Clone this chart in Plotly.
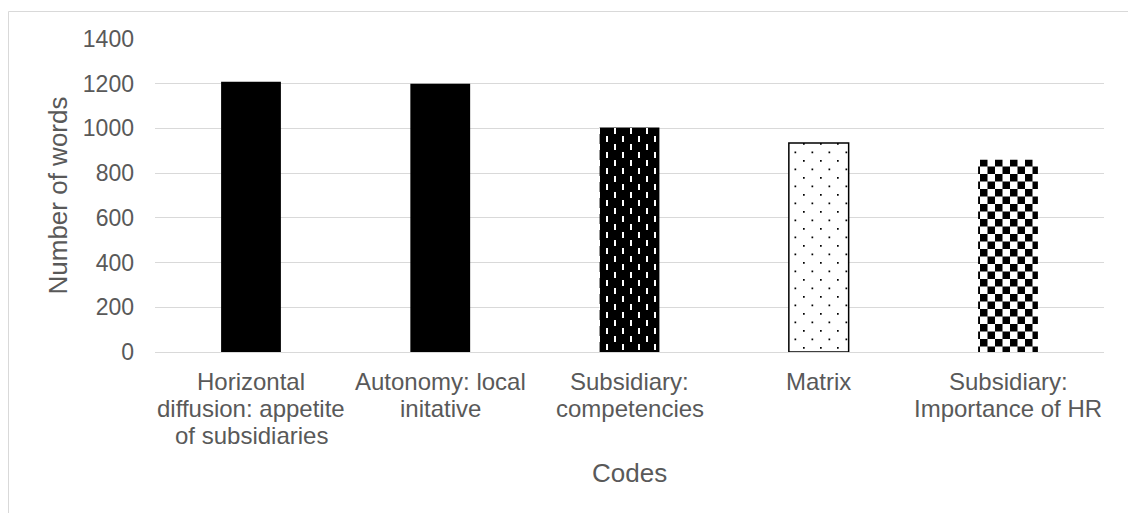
import plotly.graph_objects as go

categories = [
    "Horizontal diffusion: appetite of subsidiaries",
    "Autonomy: local initative",
    "Subsidiary: competencies",
    "Matrix",
    "Subsidiary: Importance of HR",
]
category_lines = [
    ["Horizontal", "diffusion: appetite", "of subsidiaries"],
    ["Autonomy: local", "initative"],
    ["Subsidiary:", "competencies"],
    ["Matrix"],
    ["Subsidiary:", "Importance of HR"],
]
values = [1209, 1200, 1004, 935, 860]
y_ticks = [0, 200, 400, 600, 800, 1000, 1200, 1400]

W, H = 1128, 513
L, R, T, B = 155, 24, 39, 161
pw, ph = W - L - R, H - T - B

FONT = "Arial, Liberation Sans, sans-serif"
TXT = "#595959"
GRID = "#d9d9d9"

patterns = [
    None,
    None,
    dict(shape="", path="M3,1h2v6h-2Z M11,9h2v6h-2Z", size=16, fgcolor="white", bgcolor="black", fillmode="replace"),
    dict(shape="", path="M2,2h1.7v1.7h-1.7Z M10.5,10.5h1.7v1.7h-1.7Z", size=17, fgcolor="black", bgcolor="white", fillmode="replace"),
    dict(shape="", path="M0,0H7.5V7.5H0Z M7.5,7.5H15V15H7.5Z", size=15, fgcolor="black", bgcolor="white", fillmode="replace"),
]
line_w = [0, 0, 0, 1.5, 0]

fig = go.Figure()
for i in range(len(categories)):
    if patterns[i] is None:
        marker = dict(color="black", line=dict(width=0))
    else:
        marker = dict(color="white", line=dict(width=line_w[i], color="black"), pattern=patterns[i])
    fig.add_trace(go.Bar(
        x=[categories[i]], y=[values[i]], width=0.316,
        marker=marker, showlegend=False, hoverinfo="skip",
    ))

annotations = [
    dict(text="Number of words", xref="paper", yref="paper", x=0, y=0.5,
         xanchor="center", yanchor="middle", xshift=-98, textangle=-90,
         showarrow=False, font=dict(size=26, color=TXT, family=FONT)),
    dict(text="Codes", xref="paper", yref="paper", x=0.5, y=0,
         xanchor="center", yanchor="middle", yshift=-121,
         showarrow=False, font=dict(size=26, color=TXT, family=FONT)),
]
for cat, lines in zip(categories, category_lines):
    for j, ln in enumerate(lines):
        annotations.append(dict(
            text=ln, xref="x", yref="paper", x=cat, y=0,
            xanchor="center", yanchor="middle", yshift=-(29 + 27 * j),
            showarrow=False, font=dict(size=24, color=TXT, family=FONT),
        ))

fig.update_layout(
    width=W,
    height=H,
    margin=dict(l=L, r=R, t=T, b=B, autoexpand=False),
    paper_bgcolor="white",
    plot_bgcolor="white",
    font=dict(family=FONT, color=TXT, size=23),
    barmode="overlay",
    xaxis=dict(
        type="category",
        categoryorder="array",
        categoryarray=categories,
        showgrid=False,
        showline=True,
        linecolor=GRID,
        linewidth=1,
        ticks="",
        showticklabels=False,
        automargin=False,
    ),
    yaxis=dict(
        range=[0, 1400],
        tickvals=y_ticks,
        ticktext=[str(v) for v in y_ticks],
        showgrid=True,
        gridcolor=GRID,
        gridwidth=1,
        zeroline=False,
        showline=False,
        ticks="",
        tickfont=dict(size=23, color=TXT),
        ticklabelstandoff=20,
        automargin=False,
    ),
    annotations=annotations,
    shapes=[
        dict(type="rect", xref="paper", yref="paper",
             x0=(8.5 - L) / pw, x1=(W + 5 - L) / pw,
             y0=-(H + 5 - T - ph) / ph, y1=1 + (T - 11.5) / ph,
             line=dict(color=GRID, width=1), fillcolor="rgba(0,0,0,0)", layer="below"),
    ],
)

fig.write_html("out.html")
